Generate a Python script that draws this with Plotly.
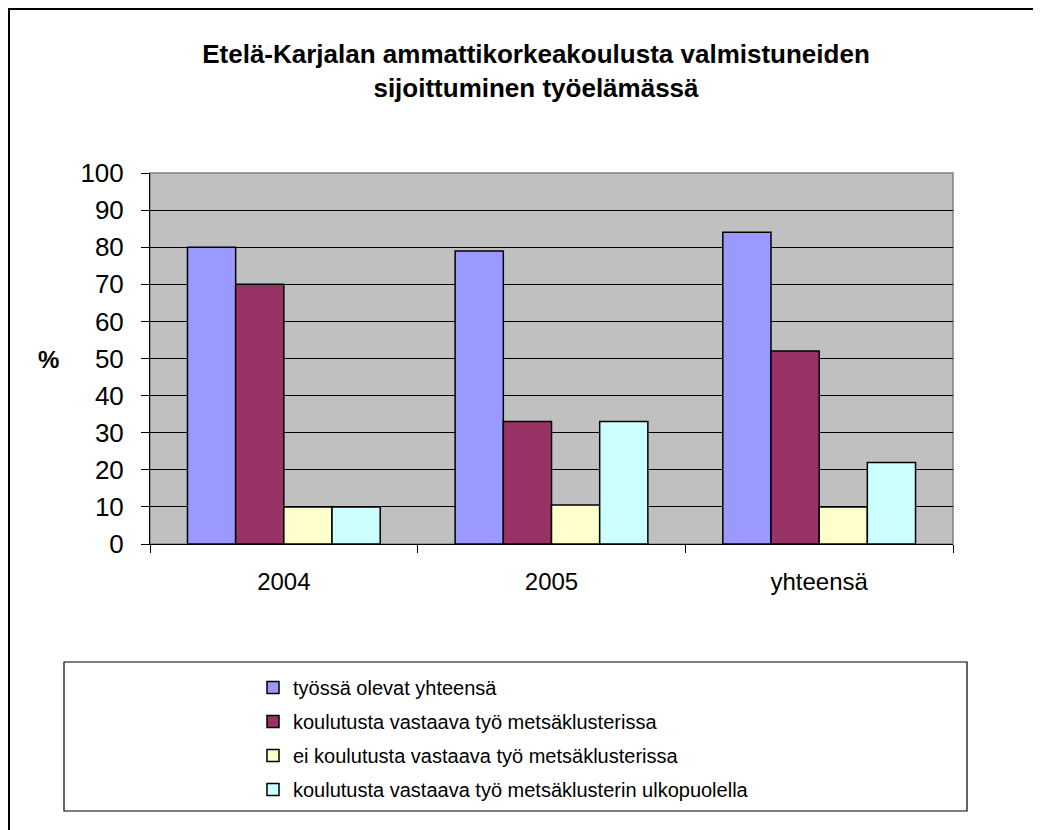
import plotly.graph_objects as go

categories = ["2004", "2005", "yhteensä"]
series_names = [
    "työssä olevat yhteensä",
    "koulutusta vastaava työ metsäklusterissa",
    "ei koulutusta vastaava työ metsäklusterissa",
    "koulutusta vastaava työ metsäklusterin ulkopuolella",
]
tyossa = [80, 79, 84]
vastaava_metsa = [70, 33, 52]
ei_vastaava_metsa = [10, 10.5, 10]
vastaava_ulko = [10, 33, 22]
y_ticks = list(range(0, 101, 10))

series_values = [tyossa, vastaava_metsa, ei_vastaava_metsa, vastaava_ulko]
colors = ["#9999FF", "#993366", "#FFFFCC", "#CCFFFF"]

W, H = 1041, 830
# figure coordinates (page shows an 8px body margin)
L, R, T, B = 142, 945, 165, 536
pw, ph = R - L, B - T


def px(xp):
    return (xp - L) / pw


def py(yp):
    return (B - yp) / ph


FONT = "Liberation Sans, Arial, sans-serif"

fig = go.Figure()
for i, (name, vals, col) in enumerate(zip(series_names, series_values, colors)):
    fig.add_trace(go.Bar(
        x=categories, y=vals, name=name,
        marker=dict(color=col, line=dict(color="black", width=1.5)),
        legendgroup=f"g{i}",
    ))

fig.update_layout(
    width=W, height=H,
    margin=dict(l=L, r=W - R, t=T, b=H - B, pad=0),
    paper_bgcolor="white",
    plot_bgcolor="#C0C0C0",
    font=dict(family=FONT, color="black"),
    bargap=0.28, bargroupgap=0,
    title=dict(
        text="<b>Etelä-Karjalan ammattikorkeakoulusta valmistuneiden<br>sijoittuminen työelämässä</b>",
        x=528 / W, xanchor="center", xref="container",
        y=1 - 55 / H, yanchor="top", yref="container",
        font=dict(size=26, family=FONT, color="black"),
    ),
    showlegend=True,
    legend=dict(
        x=px(245), xanchor="left",
        y=py(660), yanchor="top",
        bgcolor="rgba(0,0,0,0)",
        borderwidth=0,
        font=dict(size=20, family=FONT, color="black"),
        traceorder="grouped",
        tracegroupgap=5,
    ),
    shapes=[
        dict(type="rect", xref="paper", yref="paper",
             x0=px(56), x1=px(959), y0=py(803), y1=py(654),
             line=dict(color="black", width=1.2), layer="below"),
        dict(type="rect", xref="paper", yref="paper",
             x0=px(1), x1=px(1028), y0=py(840), y1=py(1),
             line=dict(color="black", width=2), layer="below"),
        dict(type="rect", xref="paper", yref="paper",
             x0=0, x1=1, y0=0, y1=1,
             line=dict(color="#808080", width=1.5), layer="below"),
    ],
    annotations=[
        dict(text="<b>%</b>", xref="paper", yref="paper",
             x=px(40), y=py(351), xanchor="center", yanchor="middle",
             showarrow=False,
             font=dict(size=24, family=FONT, color="black")),
    ],
)

fig.update_xaxes(
    showline=True, linecolor="black", linewidth=1,
    ticks="outside", tickson="boundaries", ticklen=8, tickcolor="black",
    tickfont=dict(size=24, family=FONT, color="black"),
    ticklabelstandoff=16,
    showgrid=False,
)
fig.update_yaxes(
    range=[0, 100], tickvals=y_ticks,
    showline=True, linecolor="black", linewidth=1,
    ticks="outside", ticklen=8, tickcolor="black",
    tickfont=dict(size=26, family=FONT, color="black"),
    ticklabelstandoff=12,
    showgrid=True, gridcolor="black", gridwidth=1,
    zeroline=False,
)

fig.write_html("out.html")
